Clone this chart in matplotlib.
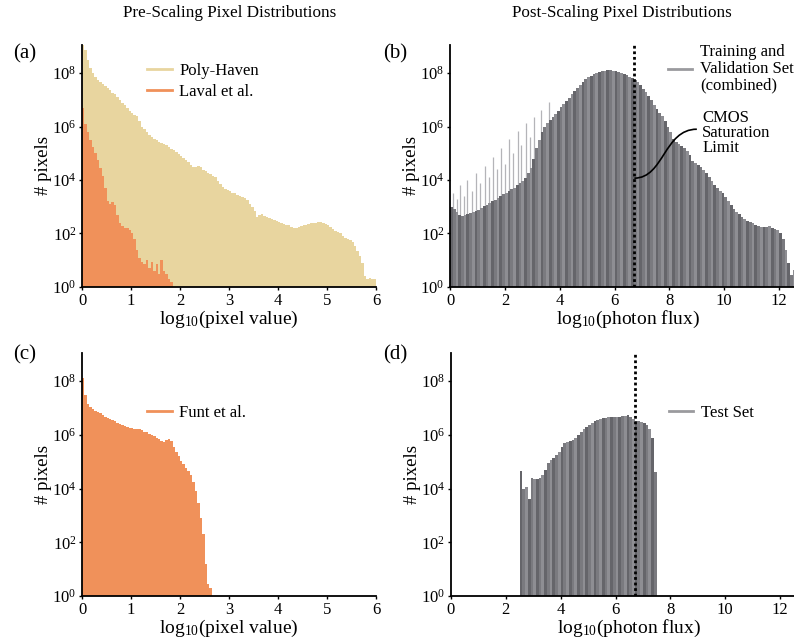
import numpy as np
import matplotlib.pyplot as plt
from matplotlib.lines import Line2D
from matplotlib.path import Path
from matplotlib.patches import PathPatch

plt.rcParams['font.family'] = ['Liberation Serif', 'DejaVu Serif']
plt.rcParams['mathtext.fontset'] = 'custom'
plt.rcParams['mathtext.rm'] = 'Liberation Serif'
plt.rcParams['mathtext.it'] = 'Liberation Serif:italic'

# ---- data: log10(# pixels) per histogram bin ----
# (a) pre-scaling, bins of 0.05 starting at 0
polyhaven_bin = 0.05
polyhaven_log = [
    9.1, 8.85, 8.5, 8.2, 8.0, 7.85, 7.75, 7.65, 7.58, 7.5,
    7.44, 7.36, 7.27, 7.2, 7.1, 6.98, 6.88, 6.8, 6.7, 6.6,
    6.5, 6.42, 6.38, 6.2, 6.0, 5.9, 5.8, 5.7, 5.62, 5.55,
    5.5, 5.42, 5.38, 5.33, 5.3, 5.22, 5.16, 5.12, 5.05, 4.98,
    4.9, 4.82, 4.75, 4.66, 4.58, 4.5, 4.48, 4.52, 4.47, 4.38,
    4.33, 4.27, 4.22, 4.15, 4.1, 3.98, 3.85, 3.75, 3.68, 3.62,
    3.58, 3.52, 3.5, 3.45, 3.4, 3.35, 3.32, 3.25, 3.12, 2.98,
    2.85, 2.62, 2.7, 2.72, 2.66, 2.62, 2.58, 2.55, 2.52, 2.48,
    2.42, 2.38, 2.35, 2.33, 2.3, 2.24, 2.2, 2.22, 2.25, 2.27,
    2.3, 2.33, 2.36, 2.39, 2.4, 2.38, 2.42, 2.44, 2.4, 2.36,
    2.32, 2.25, 2.18, 2.1, 2.05, 2.0, 1.92, 1.85, 1.8, 1.75,
    1.68, 1.55, 1.35, 1.15, 0.9, 0.4, 0.3, 0.35, 0.3, 0.3,
]
laval_bin = 0.05
laval_log = [
    6.7, 6.1, 5.8, 5.5, 5.25, 5.0, 4.76, 4.45, 4.15, 3.7,
    3.2, 3.12, 3.18, 3.05, 2.7, 2.4, 2.28, 2.22, 2.2, 2.12,
    2.0, 1.8, 1.4, 1.1, 0.95, 0.85, 1.0, 0.7, 0.95, 0.6,
    0.85, 0.5, 1.0, 0.6, 0.5, 0.3, 0.2,
]
# (c) pre-scaling, Funt et al.
funt_bin = 0.05
funt_log = [
    8.1, 7.5, 7.15, 7.02, 6.95, 6.9, 6.86, 6.8, 6.75, 6.68,
    6.62, 6.58, 6.54, 6.5, 6.46, 6.42, 6.38, 6.34, 6.3, 6.27,
    6.24, 6.22, 6.2, 6.22, 6.17, 6.12, 6.09, 6.05, 6.0, 5.95,
    5.9, 5.85, 5.78, 5.72, 5.8, 5.85, 5.78, 5.55, 5.38, 5.2,
    5.04, 4.9, 4.78, 4.65, 4.52, 4.25, 3.9, 3.45, 2.9, 2.3,
    1.2, 0.45, 0.3,
]
# (b) post-scaling, training + validation, bins of 0.1 starting at 0
trainval_bin = 0.1
trainval_log = [
    3.0, 2.9, 2.8, 2.7, 2.66, 2.68, 2.72, 2.76, 2.8, 2.83,
    2.88, 2.95, 3.02, 3.08, 3.14, 3.2, 3.26, 3.32, 3.4, 3.46,
    3.52, 3.58, 3.66, 3.72, 3.8, 3.87, 3.95, 4.08, 4.25, 4.45,
    4.8, 5.2, 5.5, 5.8, 5.98, 6.12, 6.25, 6.37, 6.48, 6.6,
    6.72, 6.84, 6.95, 7.08, 7.2, 7.32, 7.44, 7.56, 7.68, 7.77,
    7.84, 7.9, 7.96, 8.0, 8.04, 8.06, 8.08, 8.1, 8.1, 8.08,
    8.06, 8.04, 8.0, 7.96, 7.92, 7.86, 7.8, 7.74, 7.66, 7.55,
    7.42, 7.28, 7.15, 7.0, 6.82, 6.66, 6.52, 6.4, 6.2, 6.0,
    5.8, 5.55, 5.42, 5.35, 5.28, 5.2, 5.08, 4.92, 4.72, 4.62,
    4.55, 4.5, 4.38, 4.26, 4.12, 3.95, 3.82, 3.7, 3.6, 3.52,
    3.35, 3.2, 3.05, 2.92, 2.8, 2.72, 2.62, 2.55, 2.48, 2.44,
    2.38, 2.32, 2.28, 2.26, 2.26, 2.24, 2.27, 2.2, 2.15, 2.12,
    2.0, 1.8, 1.4, 0.9, 0.45, 0.65,
]
# thin light spikes rising above the (b) histogram at low flux
spike_x = [0.12, 0.25, 0.37, 0.5, 0.62, 0.8, 0.95, 1.1, 1.28, 1.42,
           1.58, 1.72, 1.85, 2.0, 2.15, 2.3, 2.46, 2.6, 2.77, 2.9,
           3.05, 3.3, 3.6]
spike_log = [3.5, 3.3, 3.8, 3.4, 4.0, 3.6, 4.26, 3.9, 4.52, 4.1,
             4.87, 4.4, 5.2, 4.6, 5.53, 5.0, 5.84, 5.3, 6.12, 5.6,
             6.37, 6.62, 6.93]
# (d) post-scaling, test set, bins of 0.1 starting at 2.5
test_start = 2.5
test_bin = 0.1
test_log = [
    4.65, 4.0, 4.05, 3.6, 4.4, 4.35, 4.36, 4.38, 4.5, 4.7,
    4.95, 5.05, 5.15, 5.25, 5.38, 5.55, 5.68, 5.72, 5.76, 5.82,
    5.9, 6.0, 6.12, 6.2, 6.28, 6.36, 6.44, 6.5, 6.55, 6.6,
    6.62, 6.64, 6.66, 6.67, 6.67, 6.67, 6.68, 6.7, 6.72, 6.74,
    6.68, 6.6, 6.52, 6.5, 6.48, 6.46, 6.35, 6.2, 5.9, 4.6,
]
cmos_limit = 6.72

# ---- colours ----
yellow = '#e8d59f'
orange = '#f0915a'
gray_cycle = ['#65656a', '#7a7a7f', '#8e8e93']
gray_legend = '#9a9a9e'

fig = plt.figure(figsize=(7.94, 6.4), dpi=100)
ax_a = fig.add_axes([0.1033, 0.5516, 0.3703, 0.3781])
ax_b = fig.add_axes([0.5668, 0.5516, 0.449, 0.3781])
ax_c = fig.add_axes([0.1033, 0.0688, 0.3703, 0.3797])
ax_d = fig.add_axes([0.5680, 0.0688, 0.449, 0.3797])


def hist_bars(ax, start, width, logs, color):
    edges = start + np.arange(len(logs)) * width
    ax.bar(edges, 10 ** np.array(logs), width=width, align='edge',
           color=color, linewidth=0)


def style(ax, xmax, xticks, xlabel):
    ax.set_yscale('log')
    ax.set_ylim(1, 10 ** 9.05)
    ax.set_xlim(0, xmax)
    ax.set_xticks(xticks)
    ax.set_yticks([1, 1e2, 1e4, 1e6, 1e8])
    ax.minorticks_off()
    for s in ['top', 'right']:
        ax.spines[s].set_visible(False)
    ax.spines['left'].set_linewidth(1.3)
    ax.spines['bottom'].set_linewidth(1.3)
    ax.tick_params(length=2, width=1, labelsize=12, pad=2)
    ax.set_xlabel(xlabel, fontsize=14, labelpad=0)
    ax.set_ylabel('# pixels', fontsize=13.5, labelpad=0)


def legend(ax, handles, labels, anchor, spacing=0.3):
    leg = ax.legend(handles, labels, loc='upper left', bbox_to_anchor=anchor,
                    frameon=False, fontsize=12, handlelength=1.45,
                    handletextpad=0.45, labelspacing=spacing, borderaxespad=0)
    for t in leg.get_texts():
        t.set_linespacing(1.05)
    return leg


for ax in (ax_a, ax_c):
    style(ax, 6, range(0, 7), r'log$_{10}$(pixel value)')
for ax in (ax_b, ax_d):
    style(ax, 13, range(0, 13, 2), r'log$_{10}$(photon flux)')

# (a)
hist_bars(ax_a, 0, polyhaven_bin, polyhaven_log, yellow)
hist_bars(ax_a, 0, laval_bin, laval_log, orange)
legend(ax_a, [Line2D([], [], color=yellow, lw=2), Line2D([], [], color=orange, lw=2)],
       ['Poly-Haven', 'Laval et al.'], (0.2, 0.955))

# (b)
ax_b.vlines(spike_x, 1, 10 ** np.array(spike_log), color='#b4b4b8', lw=0.9, zorder=1)
hist_bars(ax_b, 0, trainval_bin, trainval_log,
          [gray_cycle[i % 3] for i in range(len(trainval_log))])
ax_b.axvline(cmos_limit, color='k', ls=(0, (1, 1)), lw=2, zorder=5)
legend(ax_b, [Line2D([], [], color=gray_legend, lw=2)],
       ['Training and\nValidation Sets\n(combined)'], (0.593, 1.03))
curve = Path([(cmos_limit, 10 ** 4.07), (7.8, 10 ** 4.07), (7.8, 10 ** 5.9), (9.0, 10 ** 5.9)],
             [Path.MOVETO, Path.CURVE4, Path.CURVE4, Path.CURVE4])
ax_b.add_patch(PathPatch(curve, fill=False, color='k', lw=1.2, transform=ax_b.transData, zorder=6))
ax_b.text(9.2, 10 ** 5.76, 'CMOS\nSaturation\nLimit', fontsize=12, ha='left', va='center',
          linespacing=0.9)

# (c)
hist_bars(ax_c, 0, funt_bin, funt_log, orange)
legend(ax_c, [Line2D([], [], color=orange, lw=2)], ['Funt et al.'], (0.2, 0.812))

# (d)
hist_bars(ax_d, test_start, test_bin, test_log,
          [gray_cycle[i % 3] for i in range(len(test_log))])
ax_d.axvline(cmos_limit, color='k', ls=(0, (1, 1)), lw=2, zorder=5)
legend(ax_d, [Line2D([], [], color=gray_legend, lw=2)], ['Test Set'], (0.593, 0.812))

# titles and panel letters
fig.text(230 / 794, 1 - 13 / 640, 'Pre-Scaling Pixel Distributions', fontsize=12.3,
         ha='center', va='center')
fig.text(622 / 794, 1 - 13 / 640, 'Post-Scaling Pixel Distributions', fontsize=12.3,
         ha='center', va='center')
for label, (px, py) in {'(a)': (25, 54), '(b)': (395, 54),
                        '(c)': (25, 355), '(d)': (395, 355)}.items():
    fig.text(px / 794, 1 - py / 640, label, fontsize=15, ha='center', va='center')

fig.savefig('out.png', dpi=100)
